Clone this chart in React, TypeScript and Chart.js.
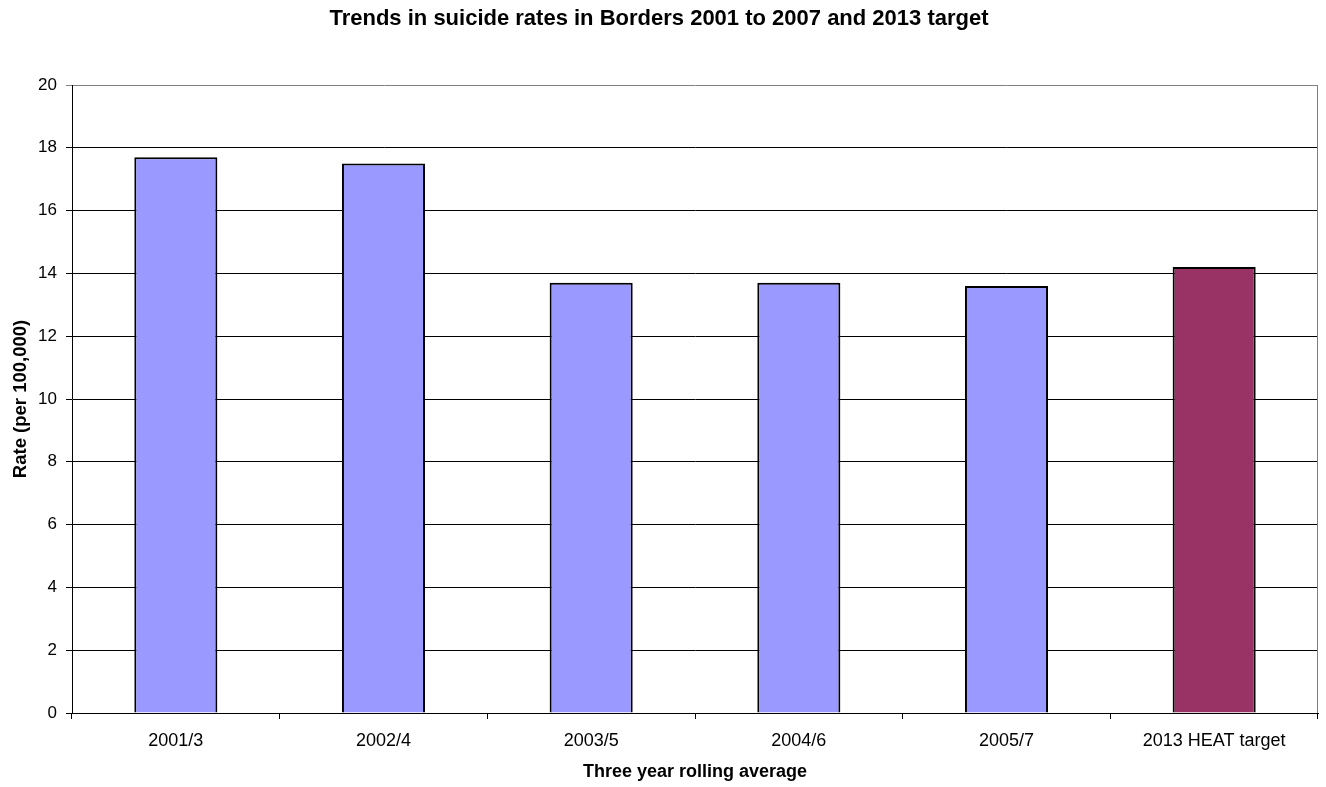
import React, { useEffect, useRef } from "react";
import { Chart, registerables } from "chart.js";

Chart.register(...registerables);

const categories = ["2001/3", "2002/4", "2003/5", "2004/6", "2005/7", "2013 HEAT target"];
const rates = [17.7, 17.5, 13.7, 13.7, 13.6, 14.2];
const barColors = ["#9999FF", "#9999FF", "#9999FF", "#9999FF", "#9999FF", "#993366"];
const yTicksMin = 0;
const yTicksMax = 20;
const yTickStep = 2;

const titleText = "Trends in suicide rates in Borders 2001 to 2007 and 2013 target";
const xTitle = "Three year rolling average";
const yTitle = "Rate (per 100,000)";

const FONT = "'Liberation Sans', Arial, Helvetica, sans-serif";

const rightBorder = {
  id: "rightBorder",
  afterDatasetsDraw(chart: any) {
    const { ctx, chartArea } = chart;
    ctx.save();
    ctx.strokeStyle = "#808080";
    ctx.lineWidth = 1;
    ctx.beginPath();
    const x = Math.round(chartArea.right) - 0.5;
    ctx.moveTo(x, chartArea.top);
    ctx.lineTo(x, chartArea.bottom);
    ctx.stroke();
    ctx.restore();
  },
};

export default function App() {
  const ref = useRef<HTMLCanvasElement | null>(null);

  useEffect(() => {
    document.body.style.margin = "0";
    const canvas = ref.current!;
    const chart = new Chart(canvas, {
      type: "bar",
      data: {
        labels: categories,
        datasets: [
          {
            data: rates,
            backgroundColor: barColors,
            borderColor: "#000000",
            borderWidth: 2,
            categoryPercentage: 1,
            barPercentage: 0.4,
          },
        ],
      },
      options: {
        responsive: false,
        animation: false,
        devicePixelRatio: 1,
        layout: { padding: { left: 0, right: 8, top: 0, bottom: 0 } },
        plugins: {
          legend: { display: false },
          tooltip: { enabled: false },
          title: {
            display: true,
            text: titleText,
            color: "#000",
            font: { family: FONT, size: 22, weight: "bold" },
            padding: { top: 5.5, bottom: 53.1 },
          },
        },
        scales: {
          x: {
            afterFit(scale: any) {
              scale.height = 74;
            },
            grid: {
              display: true,
              drawOnChartArea: false,
              drawTicks: true,
              tickLength: 6,
              color: "#000",
              offset: true,
            },
            border: { display: true, color: "#000", width: 1 },
            ticks: {
              color: "#000",
              font: { family: FONT, size: 18 },
              padding: 11,
              maxRotation: 0,
              autoSkip: false,
            },
            title: {
              display: true,
              text: xTitle,
              color: "#000",
              font: { family: FONT, size: 18, weight: "bold" },
              padding: { top: 0, bottom: 4 },
            },
          },
          y: {
            min: yTicksMin,
            max: yTicksMax,
            afterFit(scale: any) {
              scale.width = 72;
            },
            grid: {
              display: true,
              drawTicks: true,
              tickLength: 6,
              color: (c: any) => (c.tick && c.tick.value === yTicksMax ? "#808080" : "#000"),
            },
            border: { display: true, color: "#000", width: 1 },
            ticks: {
              stepSize: yTickStep,
              color: "#000",
              font: { family: FONT, size: 17 },
              padding: 9,
            },
            title: {
              display: true,
              text: yTitle,
              color: "#000",
              font: { family: FONT, size: 18.5, weight: "bold" },
              padding: { top: 10, bottom: 0 },
            },
          },
        },
      },
      plugins: [rightBorder],
    } as any);
    return () => chart.destroy();
  }, []);

  return (
    <div style={{ position: "fixed", left: 0, top: 0, width: 1326, height: 787, background: "#fff" }}>
      <canvas ref={ref} width={1326} height={787} style={{ display: "block", width: 1326, height: 787 }} />
    </div>
  );
}
